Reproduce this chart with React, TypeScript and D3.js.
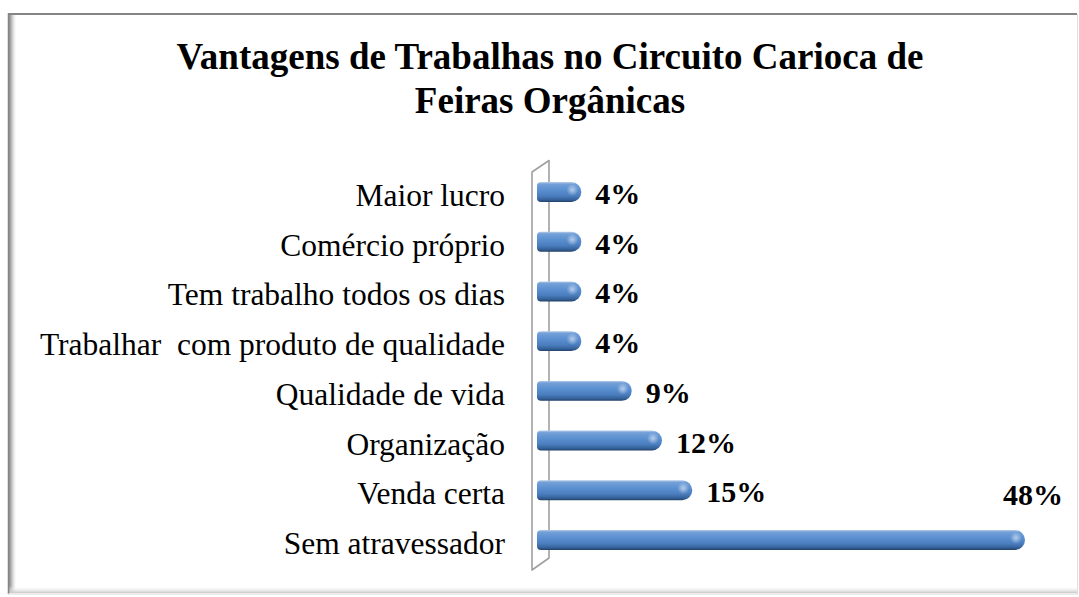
import React from "react";
import * as d3 from "d3";

const categories = [
  "Maior lucro",
  "Comércio próprio",
  "Tem trabalho todos os dias",
  "Trabalhar  com produto de qualidade",
  "Qualidade de vida",
  "Organização",
  "Venda certa",
  "Sem atravessador",
];
const values = [4, 4, 4, 4, 9, 12, 15, 48];
const valueLabels = ["4%", "4%", "4%", "4%", "9%", "12%", "15%", "48%"];
const titleLines = ["Vantagens de Trabalhas no Circuito Carioca de", "Feiras Orgânicas"];

const W = 1079;
const H = 597;
const SERIF = "'Liberation Serif', 'Times New Roman', serif";

export default function App() {
  const x = d3.scaleLinear().domain([0, 48]).range([541, 1025]);
  const y = d3
    .scaleBand<string>()
    .domain(categories)
    .range([167.2, 564.8])
    .paddingInner(0.6)
    .paddingOuter(0.3);
  const bh = y.bandwidth();
  const barStart = x(0) - 4;

  // wall (3D axis plane)
  const wallFrontX = 532;
  const wallBackX = 549;
  const wallPath = `M${wallFrontX},570 L${wallFrontX},172 L${wallBackX},160.5 L${wallBackX},558 Z`;

  const barPath = (v: number, yc: number) => {
    const x1 = x(v);
    const r = bh / 2;
    const r0 = 4;
    const top = yc - r;
    const bot = yc + r;
    return `M${barStart + r0},${top} L${x1 - r},${top} A${r},${r} 0 0 1 ${x1 - r},${bot} L${barStart + r0},${bot} Q${barStart},${bot} ${barStart},${bot - r0} L${barStart},${top + r0} Q${barStart},${top} ${barStart + r0},${top} Z`;
  };

  return (
    <svg
      width={W}
      height={H}
      viewBox={`0 0 ${W} ${H}`}
      style={{ position: "absolute", left: 0, top: 0, background: "#fff" }}
    >
      <defs>
        <linearGradient id="barGrad" x1="0" y1="0" x2="0" y2="1">
          <stop offset="0" stopColor="#b4cbe8" />
          <stop offset="0.1" stopColor="#74a0d8" />
          <stop offset="0.4" stopColor="#5a8fd0" />
          <stop offset="0.7" stopColor="#4a7dbd" />
          <stop offset="0.9" stopColor="#335f96" />
          <stop offset="1" stopColor="#213f66" />
        </linearGradient>
        <radialGradient id="capGrad" cx="0.5" cy="0.5" r="0.5">
          <stop offset="0" stopColor="#ffffff" stopOpacity="0.55" />
          <stop offset="1" stopColor="#ffffff" stopOpacity="0" />
        </radialGradient>
        <linearGradient id="leftShadow" x1="0" y1="0" x2="1" y2="0">
          <stop offset="0" stopColor="#8a8a8a" />
          <stop offset="0.4" stopColor="#c8c8c8" />
          <stop offset="1" stopColor="#ffffff" stopOpacity="0" />
        </linearGradient>
        <linearGradient id="bottomShadow" x1="0" y1="1" x2="0" y2="0">
          <stop offset="0" stopColor="#c8c8c8" />
          <stop offset="1" stopColor="#ffffff" stopOpacity="0" />
        </linearGradient>
      </defs>

      {/* frame */}
      <rect x={8} y={13.5} width={1069} height={580} fill="#fff" stroke="none" />
      <rect x={9} y={14} width={8} height={579} fill="url(#leftShadow)" />
      <rect x={9} y={586} width={1068} height={7} fill="url(#bottomShadow)" />
      <line x1={8} y1={14} x2={1077} y2={14} stroke="#858585" strokeWidth={2} />
      <line x1={8.5} y1={13} x2={8.5} y2={594} stroke="#858585" strokeWidth={1.5} />
      <line x1={1077.5} y1={14} x2={1077.5} y2={594} stroke="#e0e0e0" strokeWidth={1} />
      <line x1={8} y1={594} x2={1078} y2={594} stroke="#d9d9d9" strokeWidth={1} />

      {/* title */}
      <text
        x={550}
        textAnchor="middle"
        fontFamily={SERIF}
        fontWeight="bold"
        fontSize={37}
        fill="#000"
      >
        {titleLines.map((t, i) => (
          <tspan key={i} x={550} y={69 + i * 43.5}>
            {t}
          </tspan>
        ))}
      </text>

      {/* wall */}
      <path d={wallPath} fill="none" stroke="#a0a0a0" strokeWidth={1.6} strokeLinejoin="round" />

      {/* category labels */}
      {categories.map((c) => {
        const yc = (y(c) ?? 0) + bh / 2;
        return (
          <text
            key={c}
            x={505}
            y={yc + 14}
            textAnchor="end"
            fontFamily={SERIF}
            fontSize={31.5}
            fill="#000"
            style={{ whiteSpace: "pre" }}
            xmlSpace="preserve"
          >
            {c}
          </text>
        );
      })}

      {/* bars */}
      {categories.map((c, i) => {
        const yc = (y(c) ?? 0) + bh / 2;
        const x1 = x(values[i]);
        return (
          <g key={c}>
            <path d={barPath(values[i], yc)} fill="url(#barGrad)" />
            <ellipse cx={x1 - 9} cy={yc - 2} rx={6} ry={6} fill="url(#capGrad)" />
          </g>
        );
      })}

      {/* value labels */}
      {categories.map((c, i) => {
        const yc = (y(c) ?? 0) + bh / 2;
        const x1 = x(values[i]);
        const approxW = valueLabels[i].length * 15;
        const fits = x1 + 14 + approxW < 1068;
        return (
          <text
            key={c}
            x={fits ? x1 + 14 : 1063}
            y={fits ? yc + 12 : yc - 35}
            textAnchor={fits ? "start" : "end"}
            fontFamily={SERIF}
            fontWeight="bold"
            fontSize={30}
            fill="#000"
          >
            {valueLabels[i]}
          </text>
        );
      })}
    </svg>
  );
}
